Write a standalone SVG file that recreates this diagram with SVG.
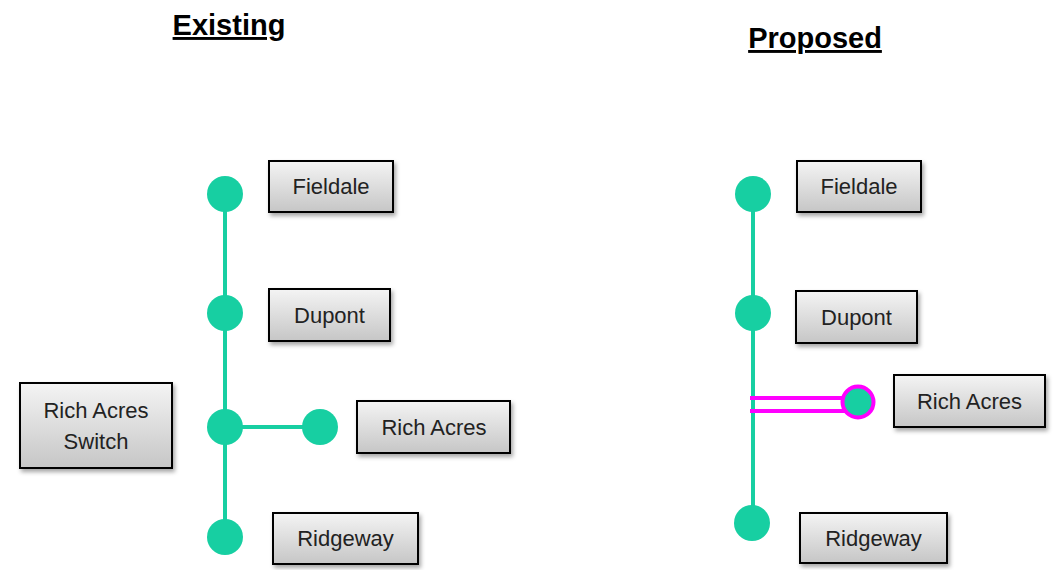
<svg xmlns="http://www.w3.org/2000/svg" width="1064" height="570" viewBox="0 0 1064 570">
<style>
.title{font-family:"Liberation Sans",Arial,sans-serif;font-weight:bold;font-size:29px;fill:#000;text-anchor:middle;text-decoration:underline}
.box{fill:url(#g);stroke:#000;stroke-width:2;filter:url(#sh)}
.lbl{font-family:"Liberation Sans",Arial,sans-serif;font-size:22px;fill:#222;text-anchor:middle}
.dot{fill:#17CFA2}
.ln{stroke:#17CFA2;stroke-width:4;fill:none}
.mg{stroke:#FF00FF;stroke-width:4;fill:none}
</style>
<defs>
<linearGradient id="g" x1="0" y1="0" x2="0" y2="1">
<stop offset="0" stop-color="#f4f4f4"/>
<stop offset="1" stop-color="#c6c6c6"/>
</linearGradient>
<filter id="sh" x="-10%" y="-10%" width="130%" height="140%">
<feDropShadow dx="2" dy="3" stdDeviation="2" flood-color="#000" flood-opacity="0.35"/>
</filter>
</defs>
<rect width="1064" height="570" fill="#fff"/>
<text class="title" x="229" y="35">Existing</text>
<text class="title" x="815" y="48">Proposed</text>
<g id="connectors">
<line class="ln" x1="225" y1="194" x2="225" y2="537"/>
<line class="ln" x1="225" y1="427" x2="321" y2="427"/>
<line class="ln" x1="753" y1="194" x2="753" y2="523"/>
<line class="mg" x1="750" y1="398" x2="846" y2="398"/>
<line class="mg" x1="750" y1="411" x2="846" y2="411"/>
</g>
<g id="existing-fieldale">
<circle class="dot" cx="225" cy="194" r="18"/>
<rect class="box" x="269" y="161" width="124" height="51"/>
<text class="lbl" x="331" y="194">Fieldale</text>
</g>
<g id="existing-dupont">
<circle class="dot" cx="225" cy="313" r="18"/>
<rect class="box" x="269" y="289" width="121" height="52"/>
<text class="lbl" x="329.5" y="323">Dupont</text>
</g>
<g id="existing-switch">
<circle class="dot" cx="225" cy="427" r="18"/>
<rect class="box" x="20" y="383" width="152" height="85"/>
<text class="lbl" x="96" y="418">Rich Acres</text>
<text class="lbl" x="96" y="449">Switch</text>
</g>
<g id="existing-richacres">
<circle class="dot" cx="320" cy="427" r="18"/>
<rect class="box" x="357" y="401" width="153" height="52"/>
<text class="lbl" x="434" y="435">Rich Acres</text>
</g>
<g id="existing-ridgeway">
<circle class="dot" cx="225" cy="537" r="18"/>
<rect class="box" x="273" y="513" width="145" height="51"/>
<text class="lbl" x="345.5" y="546">Ridgeway</text>
</g>
<g id="proposed-fieldale">
<circle class="dot" cx="753" cy="194" r="18"/>
<rect class="box" x="797" y="161" width="124" height="51"/>
<text class="lbl" x="859" y="194">Fieldale</text>
</g>
<g id="proposed-dupont">
<circle class="dot" cx="753" cy="313" r="18"/>
<rect class="box" x="796" y="291" width="121" height="52"/>
<text class="lbl" x="856.5" y="325">Dupont</text>
</g>
<g id="proposed-richacres">
<circle cx="858" cy="402" r="15.5" fill="#17CFA2" stroke="#FF00FF" stroke-width="4"/>
<rect class="box" x="894" y="375" width="151" height="52"/>
<text class="lbl" x="969.5" y="409">Rich Acres</text>
</g>
<g id="proposed-ridgeway">
<circle class="dot" cx="752" cy="523" r="18"/>
<rect class="box" x="800" y="513" width="147" height="50"/>
<text class="lbl" x="873.5" y="546">Ridgeway</text>
</g>
</svg>
